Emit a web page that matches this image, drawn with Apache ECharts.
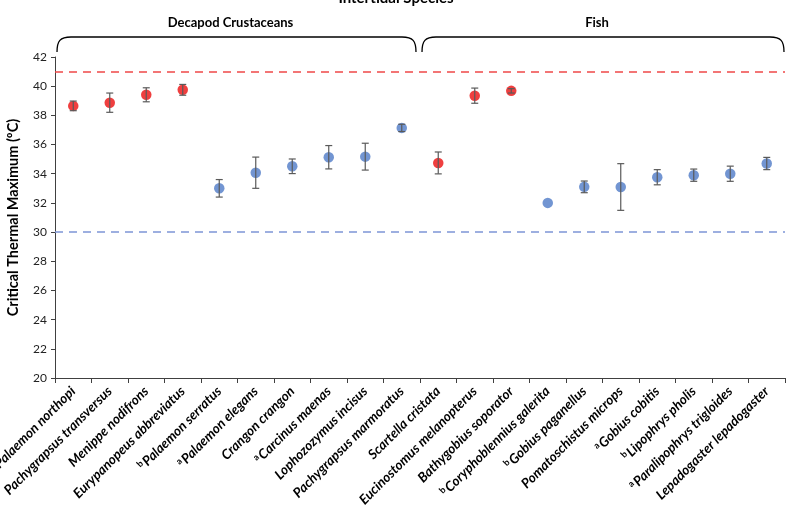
<!DOCTYPE html>
<html>
<head>
<meta charset="utf-8">
<script src="https://cdn.jsdelivr.net/npm/echarts@6/dist/echarts.min.js"></script>
<style>
  html, body { margin: 0; padding: 0; background: #fff; }
  #chart { width: 792px; height: 525px; }
</style>
</head>
<body>
<div id="chart"></div>
<script>
// especies, con el superíndice aparte
const species = [
  "Palaemon northopi", "Pachygrapsus transversus", "Menippe nodifrons", "Eurypanopeus abbreviatus",
  "Palaemon serratus", "Palaemon elegans", "Crangon crangon", "Carcinus maenas",
  "Lophozozymus incisus", "Pachygrapsus marmoratus",
  "Scartella cristata", "Eucinostomus melanopterus", "Bathygobius soporator", "Coryphoblennius galerita",
  "Gobius paganellus", "Pomatoschistus microps", "Gobius cobitis", "Lipophrys pholis",
  "Paralipophrys trigloides", "Lepadogaster lepadogaster"
];
const sup = ["", "", "", "", "b", "a", "", "a", "", "", "", "", "", "b", "b", "", "a", "b", "a", ""];
const ctmax = [38.65, 38.87, 39.41, 39.75, 33.0, 34.07, 34.51, 35.13, 35.17, 37.14,
               34.74, 39.35, 39.68, 32.0, 33.1, 33.09, 33.76, 33.9, 34.0, 34.7];
const sd = [0.33, 0.66, 0.48, 0.37, 0.6, 1.07, 0.5, 0.8, 0.92, 0.25,
            0.75, 0.52, 0.15, 0.0, 0.4, 1.6, 0.52, 0.42, 0.52, 0.42];
// r = rojo (tropical), b = azul (templado)
const group = ["r", "r", "r", "r", "b", "b", "b", "b", "b", "b",
               "r", "r", "r", "b", "b", "b", "b", "b", "b", "b"];
const refLines = [41, 30];
const yTicks = { min: 20, max: 42, interval: 2 };
const groups = [
  { name: "Decapod Crustaceans", from: 0, to: 9 },
  { name: "Fish", from: 10, to: 19 }
];

const RED = "#ee3535";
const BLUE = "#6a8fd0";

const chart = echarts.init(document.getElementById("chart"));

const option = {
  animation: false,
  title: {
    text: "Intertidal Species",
    left: "center",
    top: -14,
    textStyle: { fontFamily: "Lato", fontWeight: "bold", fontSize: 15, color: "#000" }
  },
  grid: { left: 55, right: 7, top: 57, bottom: 147, containLabel: false, outerBoundsMode: "none" },
  xAxis: {
    type: "category",
    data: species,
    boundaryGap: true,
    axisLine: { lineStyle: { color: "#404040", width: 1 } },
    axisTick: { show: true, alignWithLabel: false, length: 5, lineStyle: { color: "#404040" } },
    axisLabel: {
      interval: 0,
      rotate: 45,
      margin: 11,
      formatter: (v, i) => (sup[i] ? `{s|${sup[i]}}` : "") + `{n|${v}}`,
      rich: {
        n: { fontFamily: "Lato", fontWeight: "bold", fontStyle: "italic", fontSize: 13.5, color: "#000" },
        s: { fontFamily: "Lato", fontWeight: "bold", fontSize: 9, color: "#000", verticalAlign: "top", padding: [0, 1, 6, 0] }
      }
    }
  },
  yAxis: {
    type: "value",
    min: yTicks.min,
    max: yTicks.max,
    interval: yTicks.interval,
    name: "Critical Thermal Maximum (ºC)",
    nameLocation: "middle",
    nameGap: 34,
    nameTextStyle: { fontFamily: "Lato", fontWeight: "bold", fontSize: 14.5, color: "#000" },
    splitLine: { show: false },
    axisLine: { show: true, lineStyle: { color: "#404040" } },
    axisTick: { show: true, length: 4, lineStyle: { color: "#404040" } },
    axisLabel: { fontFamily: "Lato", fontSize: 12, color: "#222", margin: 8 }
  },
  series: [
    {
      type: "scatter",
      symbolSize: 10.5,
      z: 2,
      data: ctmax.map((v, i) => ({
        value: [i, v],
        itemStyle: { color: group[i] === "r" ? RED : BLUE, opacity: 0.95 }
      })),
      markLine: {
        silent: true,
        symbol: "none",
        label: { show: false },
        data: refLines.map((v, i) => ({
          yAxis: v,
          lineStyle: { color: i === 0 ? "#f04848" : "#7d95d6", type: [8, 6], width: 1.6 }
        }))
      }
    },
    {
      type: "custom",
      z: 3,
      data: ctmax.map((v, i) => [i, v, sd[i]]),
      renderItem: (params, api) => {
        const i = api.value(0), m = api.value(1), e = api.value(2);
        if (!e) return null;
        const top = api.coord([i, m + e]);
        const bot = api.coord([i, m - e]);
        const w = 3.5;
        const style = { stroke: "#5a5a5a", lineWidth: 1.2 };
        return {
          type: "group",
          children: [
            { type: "line", shape: { x1: top[0], y1: top[1], x2: bot[0], y2: bot[1] }, style },
            { type: "line", shape: { x1: top[0] - w, y1: top[1], x2: top[0] + w, y2: top[1] }, style },
            { type: "line", shape: { x1: bot[0] - w, y1: bot[1], x2: bot[0] + w, y2: bot[1] }, style }
          ]
        };
      }
    }
  ]
};

chart.setOption(option);

// llaves y títulos de grupo sobre el área del gráfico
const c0 = chart.convertToPixel({ xAxisIndex: 0 }, 0);
const c1 = chart.convertToPixel({ xAxisIndex: 0 }, 1);
const band = c1 - c0;
const yTop = 37, yEnd = 52;
const graphics = [];
const bStyle = { fill: null, stroke: "#000", lineWidth: 1.3 };
groups.forEach((g, k) => {
  const xa = chart.convertToPixel({ xAxisIndex: 0 }, g.from) - band / 2 + 2;
  const xb = chart.convertToPixel({ xAxisIndex: 0 }, g.to) + band / 2 - (k === 0 ? 4 : 1);
  graphics.push(
    { type: "bezierCurve", shape: { x1: xa, y1: yEnd, cpx1: xa, cpy1: yTop + 4, cpx2: xa + 3, cpy2: yTop, x2: xa + 14, y2: yTop }, style: bStyle },
    { type: "line", shape: { x1: xa + 14, y1: yTop, x2: xb - 14, y2: yTop }, style: bStyle },
    { type: "bezierCurve", shape: { x1: xb - 14, y1: yTop, cpx1: xb - 3, cpy1: yTop, cpx2: xb, cpy2: yTop + 4, x2: xb, y2: yEnd }, style: bStyle },
    {
      type: "text",
      x: (xa + xb) / 2 - 6,
      y: 23,
      style: {
        text: g.name,
        align: "center",
        verticalAlign: "middle",
        font: "bold 13px Lato",
        fill: "#000"
      }
    }
  );
});
chart.setOption({ graphic: graphics });
</script>
</body>
</html>
